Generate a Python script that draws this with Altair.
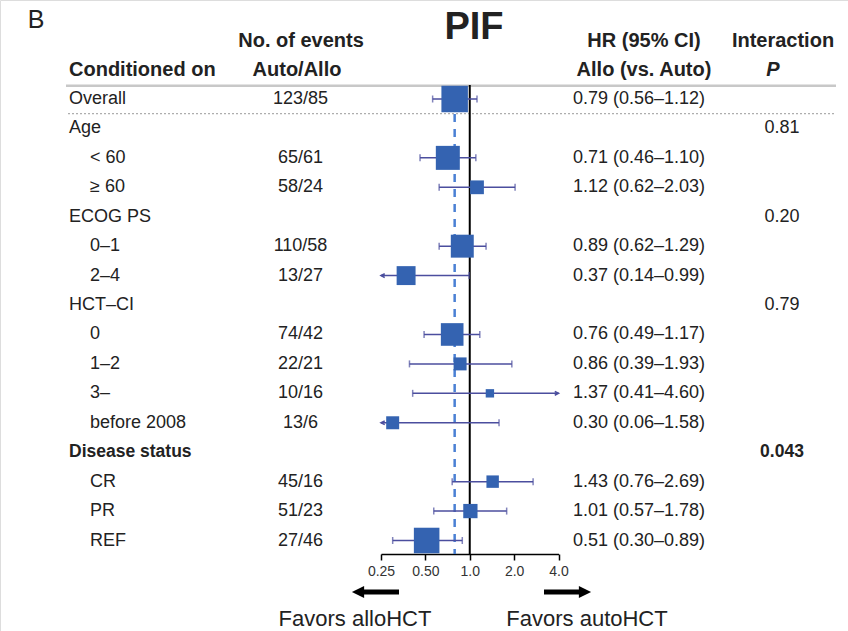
import altair as alt
import pandas as pd

# ---------------- data ----------------
labels = ["Overall", "Age", "< 60", "≥ 60", "ECOG PS", "0–1", "2–4", "HCT–CI",
          "0", "1–2", "3–", "before 2008", "Disease status", "CR", "PR", "REF"]
kinds = ["overall", "group", "sub", "sub", "group", "sub", "sub", "group",
         "sub", "sub", "sub", "sub", "groupbold", "sub", "sub", "sub"]
events = ["123/85", "", "65/61", "58/24", "", "110/58", "13/27", "",
          "74/42", "22/21", "10/16", "13/6", "", "45/16", "51/23", "27/46"]
hr = [0.79, None, 0.71, 1.12, None, 0.89, 0.37, None,
      0.76, 0.86, 1.37, 0.30, None, 1.43, 1.01, 0.51]
ci_low = [0.56, None, 0.46, 0.62, None, 0.62, 0.14, None,
          0.49, 0.39, 0.41, 0.06, None, 0.76, 0.57, 0.30]
ci_high = [1.12, None, 1.10, 2.03, None, 1.29, 0.99, None,
           1.17, 1.93, 4.60, 1.58, None, 2.69, 1.78, 0.89]
# relative box weight (area, overall = 100)
weight = [100, None, 82, 27, None, 75, 51, None,
          73, 24, 10, 24, None, 22, 29, 93]
p_interaction = ["", "0.81", "", "", "0.20", "", "", "0.79",
                 "", "", "", "", "0.043", "", "", ""]
overall_hr = 0.79
axis_ticks = [0.25, 0.5, 1, 2, 4]
x_min, x_max = 0.25, 4.0

FONT = "Liberation Sans, Arial, Helvetica, sans-serif"
TXT = "#222222"
BOX = "#3463b1"
CI = "#4b4e9e"
FS = 18

rows = []
for i, lab in enumerate(labels):
    r = dict(row=i, label=lab, kind=kinds[i], events=events[i], p=p_interaction[i])
    if hr[i] is not None:
        r.update(hr=hr[i], lo=ci_low[i], hi=ci_high[i], w=weight[i],
                 lo_c=max(ci_low[i], x_min), hi_c=min(ci_high[i], x_max),
                 hrtext=f"{hr[i]:.2f} ({ci_low[i]:.2f}–{ci_high[i]:.2f})")
    rows.append(r)
df = pd.DataFrame(rows)
est = df.dropna(subset=["hr"]).copy()

caps, arrows = [], []
for _, r in est.iterrows():
    if r["lo"] >= x_min:
        caps.append(dict(row=r["row"], x=r["lo"]))
    else:
        arrows.append(dict(row=r["row"], x=x_min, side="left"))
    if r["hi"] <= x_max:
        caps.append(dict(row=r["row"], x=r["hi"]))
    else:
        arrows.append(dict(row=r["row"], x=x_max, side="right"))
caps = pd.DataFrame(caps)
arrows = pd.DataFrame(arrows)

# ---------------- scales ----------------
YS = alt.Scale(domain=[0, len(labels) - 1], range=[99, 540.5], zero=False, nice=False)
XS = alt.Scale(type="log", base=2, domain=[x_min, x_max], range=[381, 558.5], nice=False)
XAX = alt.Axis(values=axis_ticks, title=None, grid=False, offset=-77,
               labelExpr="datum.value == 0.25 ? '0.25' : datum.value == 0.5 ? '0.50' : format(datum.value, '.1f')",
               labelFlush=False, labelOverlap=False, labelFontSize=14, labelColor="#333333",
               labelFont=FONT, labelPadding=4, domainColor="#000000", domainWidth=1.5,
               tickColor="#000000", tickWidth=1.5, tickSize=6)
Y = alt.Y("row:Q", scale=YS, axis=None)

base = alt.Chart(df)


def htext(txt, x, y, size=20, weight="bold", align="center", style="normal"):
    return alt.Chart(pd.DataFrame({"t": [txt]})).mark_text(
        font=FONT, fontSize=size, fontWeight=weight, align=align, baseline="middle",
        color=TXT, fontStyle=style
    ).encode(x=alt.value(x), y=alt.value(y), text="t:N")


headers = [
    htext("B", 36, 20, size=25, weight="normal"),
    htext("PIF", 474, 28, size=38),
    htext("No. of events", 301, 41),
    htext("HR (95% CI)", 644, 41),
    htext("Interaction", 783, 41),
    htext("Conditioned on", 69, 70, align="left"),
    htext("Auto/Allo", 297, 70),
    htext("Allo (vs. Auto)", 644, 70),
    htext("P", 773, 70, style="italic"),
]

top_line = alt.Chart(pd.DataFrame({"r": [-0.45]})).mark_rule(color="#c8c8c8", strokeWidth=2.5).encode(
    x=alt.value(66), x2=alt.value(836), y=alt.Y("r:Q", scale=YS, axis=None))
dot_line = alt.Chart(pd.DataFrame({"r": [0.5]})).mark_rule(color="#9a9a9a", strokeWidth=1, strokeDash=[2, 2]).encode(
    x=alt.value(68), x2=alt.value(834), y=alt.Y("r:Q", scale=YS, axis=None))

lab_main = base.transform_filter("datum.kind == 'overall' || datum.kind == 'group'").mark_text(
    font=FONT, fontSize=FS, align="left", baseline="middle", color=TXT
).encode(x=alt.value(69), y=Y, text="label:N")
lab_bold = base.transform_filter("datum.kind == 'groupbold'").mark_text(
    font=FONT, fontSize=FS - 0.5, fontWeight="bold", align="left", baseline="middle", color=TXT
).encode(x=alt.value(69), y=Y, text="label:N")
lab_sub = base.transform_filter("datum.kind == 'sub'").mark_text(
    font=FONT, fontSize=FS, align="left", baseline="middle", color=TXT
).encode(x=alt.value(90), y=Y, text="label:N")
ev_text = base.mark_text(font=FONT, fontSize=FS, align="center", baseline="middle", color=TXT).encode(
    x=alt.value(300.5), y=Y, text="events:N")
hr_text = alt.Chart(est).mark_text(font=FONT, fontSize=FS, align="left", baseline="middle", color=TXT).encode(
    x=alt.value(573), y=Y, text="hrtext:N")
p_text = base.transform_filter("datum.kind != 'groupbold'").mark_text(
    font=FONT, fontSize=FS, align="center", baseline="middle", color=TXT).encode(
    x=alt.value(782), y=Y, text="p:N")
p_bold = base.transform_filter("datum.kind == 'groupbold'").mark_text(
    font=FONT, fontSize=FS - 0.5, fontWeight="bold", align="center", baseline="middle", color=TXT).encode(
    x=alt.value(782), y=Y, text="p:N")

ref_line = alt.Chart(pd.DataFrame({"v": [1.0]})).mark_rule(color="#000000", strokeWidth=2).encode(
    x=alt.X("v:Q", scale=XS, axis=XAX), y=alt.value(85), y2=alt.value(554))
ovr_line = alt.Chart(pd.DataFrame({"v": [overall_hr]})).mark_rule(
    color="#4a80d4", strokeWidth=2.5, strokeDash=[8, 7]).encode(
    x=alt.X("v:Q", scale=XS, axis=XAX), y=alt.value(114), y2=alt.value(554))

ci_lines = alt.Chart(est).mark_rule(color=CI, strokeWidth=1.5).encode(
    x=alt.X("lo_c:Q", scale=XS, axis=XAX), x2="hi_c:Q", y=Y)
cap_ticks = alt.Chart(caps).mark_tick(orient="vertical", color=CI, size=7, thickness=1.5).encode(
    x=alt.X("x:Q", scale=XS, axis=XAX), y=Y)
arr_l = alt.Chart(arrows).transform_filter("datum.side == 'left'").mark_point(
    shape="M2,-1L0,0L2,1", filled=False, color=CI, size=14, strokeWidth=1.5, opacity=1).encode(
    x=alt.X("x:Q", scale=XS, axis=XAX), y=Y)
arr_r = alt.Chart(arrows).transform_filter("datum.side == 'right'").mark_point(
    shape="M-2,-1L0,0L-2,1", filled=False, color=CI, size=14, strokeWidth=1.5, opacity=1).encode(
    x=alt.X("x:Q", scale=XS, axis=XAX), y=Y)
boxes = alt.Chart(est).mark_square(color=BOX, opacity=1).encode(
    x=alt.X("hr:Q", scale=XS, axis=XAX), y=Y,
    size=alt.Size("w:Q", scale=alt.Scale(domain=[0, 100], range=[0, 26.5 ** 2]), legend=None))

# favour arrows
shaft = alt.Chart(pd.DataFrame({"a": [362, 544], "b": [399, 581]})).mark_rule(color="#000000", strokeWidth=5).encode(
    x=alt.X("a:Q", scale=None), x2="b:Q", y=alt.value(592))
head_l = alt.Chart(pd.DataFrame({"a": [358]})).mark_point(
    shape="M-1,0L1,-1L1,1Z", filled=True, color="#000000", size=150, opacity=1).encode(
    x=alt.X("a:Q", scale=None), y=alt.value(592))
head_r = alt.Chart(pd.DataFrame({"a": [585]})).mark_point(
    shape="M1,0L-1,-1L-1,1Z", filled=True, color="#000000", size=150, opacity=1).encode(
    x=alt.X("a:Q", scale=None), y=alt.value(592))
fav_l = htext("Favors alloHCT", 355, 619, size=22, weight="normal")
fav_r = htext("Favors autoHCT", 587, 619, size=22, weight="normal")

chart = alt.layer(
    top_line, dot_line, ovr_line, ref_line, ci_lines, cap_ticks, arr_l, arr_r, boxes,
    lab_main, lab_bold, lab_sub, ev_text, hr_text, p_text, p_bold,
    *headers, fav_l, fav_r, shaft, head_l, head_r
).properties(
    width=848, height=631, autosize=alt.AutoSizeParams(type="none"), padding=0
).configure_view(stroke=None).configure(background="white")

chart.save("out.html", embed_options={"renderer": "svg", "actions": False})
